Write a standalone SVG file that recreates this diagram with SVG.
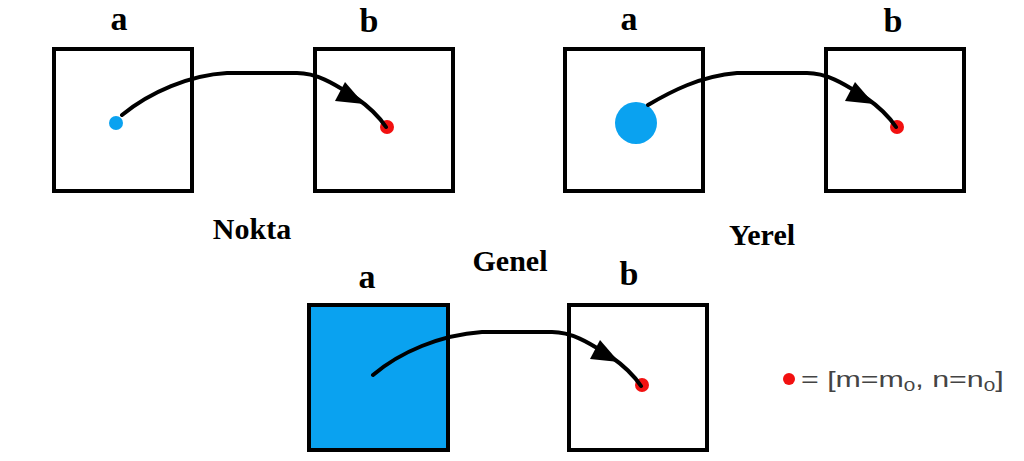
<svg xmlns="http://www.w3.org/2000/svg" width="1024" height="461" viewBox="0 0 1024 461">
<style>
.box{fill:#fff;stroke:#000;stroke-width:4}
.fill{fill:#0aa2f0}
.lbl{font-family:"Liberation Serif",serif;font-weight:bold;fill:#000;text-anchor:middle}
.ab{font-size:34px}
.title{font-size:30px}
.con{fill:none;stroke:#000;stroke-width:4;stroke-linecap:round}
.head{fill:#000}
.red{fill:#f21010}
.blue{fill:#0aa2f0}
.leg{font-family:"Liberation Sans",sans-serif;font-size:22px;fill:#444}
</style>
<rect width="1024" height="461" fill="#fff"/>
<g id="nokta">
<rect id="nokta-a" class="box" x="54" y="49" width="138" height="142"/>
<rect id="nokta-b" class="box" x="315" y="49" width="138" height="142"/>
<text class="lbl ab" x="119" y="30">a</text>
<text class="lbl ab" x="369" y="32">b</text>
<text class="lbl title" x="252" y="239">Nokta</text>
<circle class="blue" cx="116" cy="123" r="7"/>
<circle class="red" cx="387" cy="127" r="7"/>
</g>
<g id="yerel">
<rect id="yerel-a" class="box" x="565" y="49" width="138" height="142"/>
<rect id="yerel-b" class="box" x="826" y="49" width="138" height="142"/>
<text class="lbl ab" x="629" y="30">a</text>
<text class="lbl ab" x="893" y="32">b</text>
<text class="lbl title" x="762" y="245">Yerel</text>
<circle class="blue" cx="636" cy="123" r="21"/>
<circle class="red" cx="897" cy="127" r="7"/>
</g>
<g id="genel">
<rect id="genel-a" class="box fill" x="309" y="305" width="139" height="145"/>
<rect id="genel-b" class="box" x="569" y="305" width="138" height="145"/>
<text class="lbl ab" x="367" y="288">a</text>
<text class="lbl ab" x="629" y="285">b</text>
<text class="lbl title" x="510" y="271">Genel</text>
<circle class="red" cx="642" cy="385" r="7"/>
</g>
<g id="legend">
<circle class="red" cx="789" cy="379" r="6"/>
<text class="leg" transform="translate(801,387) scale(1.38,1)" x="0" y="0">= [m=m<tspan font-size="15" dy="4">0</tspan><tspan dy="-4">, n=n</tspan><tspan font-size="15" dy="4">0</tspan><tspan dy="-4">]</tspan></text>
</g>
<g id="connectors">
<path class="con" d="M122,115 C150,92 190,75 227,73 L297,73 C320,73 340,88 355,97 C368,106 378,115 386,127"/>
<polygon class="head" points="345,82 335,101 364,104"/>
<path class="con" d="M648,105 C670,92 700,76 737,73 L807,73 C830,73 850,88 865,97 C878,106 888,115 896,127"/>
<polygon class="head" points="855,82 845,101 874,104"/>
<path class="con" d="M373,375 C400,352 440,335 482,332 L552,332 C575,332 595,347 610,356 C623,365 633,374 641,386"/>
<polygon class="head" points="600,340 590,359 619,362"/>
</g>
</svg>
